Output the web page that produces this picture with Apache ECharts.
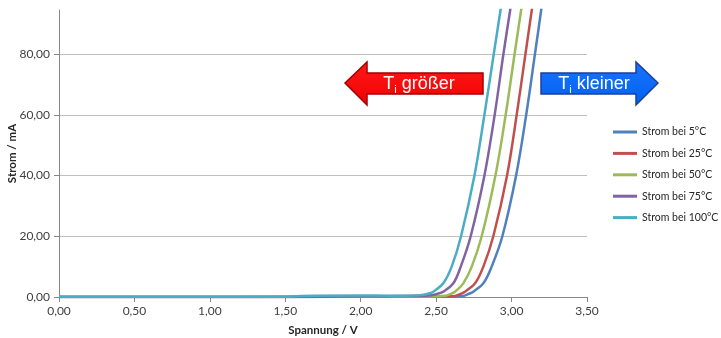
<!DOCTYPE html>
<html>
<head>
<meta charset="utf-8">
<script src="https://cdn.jsdelivr.net/npm/echarts@6/dist/echarts.min.js"></script>
<style>
  html, body { margin: 0; padding: 0; background: #ffffff; }
  #chart { width: 721px; height: 338px; }
</style>
</head>
<body>
<div id="chart"></div>
<script>
// Diode I/V characteristic at five junction temperatures (voltage in V, current in mA)
const seriesNames = ['Strom bei 5°C', 'Strom bei 25°C', 'Strom bei 50°C', 'Strom bei 75°C', 'Strom bei 100°C'];

const voltage5   = [0, 1.5, 2.0, 2.4, 2.6, 2.678, 2.715, 2.746, 2.813, 2.868, 2.939, 3.030, 3.097, 3.155, 3.212];
const current5   = [0, 0.01, 0.08, 0.12, 0.18, 0.3, 1.0, 1.75, 4.5, 10, 20, 40, 60, 80, 100];

const voltage25  = [0, 1.5, 2.0, 2.4, 2.55, 2.625, 2.66, 2.691, 2.758, 2.813, 2.879, 2.970, 3.034, 3.092, 3.150];
const current25  = [0, 0.01, 0.1, 0.15, 0.2, 0.35, 1.0, 1.75, 4.5, 10, 20, 40, 60, 80, 100];

const voltage50  = [0, 1.5, 2.0, 2.4, 2.5, 2.559, 2.595, 2.625, 2.680, 2.736, 2.802, 2.893, 2.961, 3.020, 3.080];
const current50  = [0, 0.02, 0.15, 0.2, 0.25, 0.4, 1.0, 1.75, 4.5, 10, 20, 40, 60, 80, 100];

const voltage75  = [0, 1.5, 2.0, 2.3, 2.4, 2.47, 2.506, 2.547, 2.614, 2.663, 2.729, 2.820, 2.888, 2.946, 3.008];
const current75  = [0, 0.02, 0.25, 0.3, 0.35, 0.6, 1.0, 1.75, 4.5, 10, 20, 40, 60, 80, 100];

const voltage100 = [0, 1.0, 1.5, 1.6, 2.0, 2.2, 2.3, 2.393, 2.44, 2.481, 2.547, 2.603, 2.665, 2.754, 2.820, 2.882, 2.944];
const current100 = [0, 0.02, 0.05, 0.35, 0.5, 0.45, 0.45, 0.6, 1.0, 1.75, 4.5, 10, 20, 40, 60, 80, 100];

const yTickValues = [0, 20, 40, 60, 80];
const colors = ['#4F81BD', '#C0504D', '#9BBB59', '#8064A2', '#4BACC6'];

const voltages = [voltage5, voltage25, voltage50, voltage75, voltage100];
const currents = [current5, current25, current50, current75, current100];

const fmt = v => v.toFixed(2).replace('.', ',');
const uiFont = 'Lato';

const series = seriesNames.map((name, i) => ({
  name: name,
  type: 'line',
  data: voltages[i].map((v, k) => [v, currents[i][k]]),
  smooth: 0.35,
  symbol: 'none',
  lineStyle: { width: 2.5, color: colors[i] },
  itemStyle: { color: colors[i] },
  z: 2 + i
}));

const chart = echarts.init(document.getElementById('chart'), null, { renderer: 'canvas' });
chart.setOption({
  backgroundColor: '#ffffff',
  animation: false,
  grid: { left: 59, right: 134, top: 10, bottom: 41, containLabel: false, outerBoundsMode: 'none' },
  xAxis: {
    type: 'value', min: 0, max: 3.5, interval: 0.5,
    name: 'Spannung / V', nameLocation: 'middle', nameGap: 27, nameMoveOverlap: false,
    nameTextStyle: { fontFamily: uiFont, fontSize: 11.5, fontWeight: 'bold', color: '#262626' },
    axisLine: { show: true, lineStyle: { color: '#868686', width: 1 } },
    axisTick: { show: true, inside: false, length: 5, lineStyle: { color: '#868686' } },
    axisLabel: { formatter: fmt, fontFamily: uiFont, fontSize: 12, color: '#404040', margin: 8 },
    splitLine: { show: false }
  },
  yAxis: {
    type: 'value', min: 0, max: 94.5,
    name: 'Strom / mA', nameLocation: 'middle', nameGap: 41, nameRotate: 90, nameMoveOverlap: false,
    nameTextStyle: { fontFamily: uiFont, fontSize: 11.5, fontWeight: 'bold', color: '#262626' },
    axisLine: { show: true, lineStyle: { color: '#868686', width: 1 } },
    axisTick: { show: true, inside: false, length: 5, customValues: yTickValues, lineStyle: { color: '#868686' } },
    axisLabel: { formatter: fmt, customValues: yTickValues, fontFamily: uiFont, fontSize: 12, color: '#404040', margin: 9 },
    splitLine: { show: true, lineStyle: { color: '#BFBFBF', width: 1 } }
  },
  legend: {
    orient: 'vertical', left: 613, top: 125, padding: 0,
    itemWidth: 24, itemHeight: 3, itemGap: 7.4,
    icon: 'rect',
    textStyle: { fontFamily: uiFont, fontSize: 10.5, lineHeight: 14, color: '#262626' },
    data: seriesNames
  },
  graphic: [
    {
      type: 'polygon', z: 100,
      shape: { points: [[345, 83], [367, 62], [367, 73], [483, 73], [483, 94], [367, 94], [367, 105]] },
      style: {
        fill: new echarts.graphic.LinearGradient(0, 0, 0, 1, [
          { offset: 0, color: '#ff1a1a' }, { offset: 1, color: '#f00000' }
        ]),
        stroke: '#a30000', lineWidth: 1.5
      }
    },
    {
      type: 'polygon', z: 100,
      shape: { points: [[541, 73], [636, 73], [636, 62], [658, 83], [636, 105], [636, 94], [541, 94]] },
      style: {
        fill: new echarts.graphic.LinearGradient(0, 0, 0, 1, [
          { offset: 0, color: '#1a75ff' }, { offset: 1, color: '#0060f0' }
        ]),
        stroke: '#1c3f9c', lineWidth: 1.5
      }
    },
    {
      type: 'text', z: 101, x: 419, y: 84,
      style: {
        text: '{a|T}{b|i}{a| größer}',
        align: 'center', verticalAlign: 'middle',
        rich: {
          a: { fontFamily: 'Liberation Sans', fontSize: 18, fill: '#ffffff', lineHeight: 22 },
          b: { fontFamily: 'Liberation Sans', fontSize: 11, fill: '#ffffff', lineHeight: 22, verticalAlign: 'bottom', padding: [9, 0, 0, 0] }
        }
      }
    },
    {
      type: 'text', z: 101, x: 594, y: 84,
      style: {
        text: '{a|T}{b|i}{a| kleiner}',
        align: 'center', verticalAlign: 'middle',
        rich: {
          a: { fontFamily: 'Liberation Sans', fontSize: 18, fill: '#ffffff', lineHeight: 22 },
          b: { fontFamily: 'Liberation Sans', fontSize: 11, fill: '#ffffff', lineHeight: 22, verticalAlign: 'bottom', padding: [9, 0, 0, 0] }
        }
      }
    }
  ],
  series: series
});
</script>
</body>
</html>
